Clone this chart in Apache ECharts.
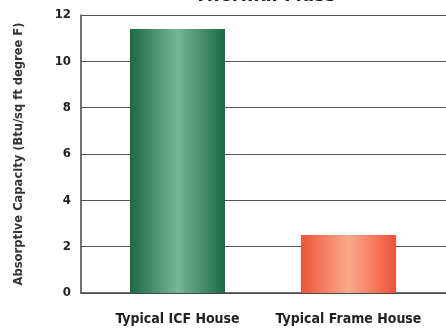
<!DOCTYPE html>
<html>
<head>
<meta charset="utf-8">
<script src="https://cdn.jsdelivr.net/npm/echarts@6/dist/echarts.min.js"></script>
<style>
  html, body { margin: 0; padding: 0; background: #fff; }
  #chart { width: 446px; height: 332px; }
</style>
</head>
<body>
<div id="chart"></div>
<script>
// Thermal mass comparison: absorptive capacity per house type
const categories = ['Typical ICF House', 'Typical Frame House'];
const capacity = [11.4, 2.5];
const yTicks = { min: 0, max: 12, interval: 2 };
const titleText = 'Thermal Mass';

const FONT = '"DejaVu Sans Condensed", "Liberation Sans Narrow", sans-serif';

const barColors = [
  { edge: '#1b6a46', mid: '#78b498' },
  { edge: '#ef5238', mid: '#fbaa8c' }
];

function hGradient(c) {
  return new echarts.graphic.LinearGradient(0, 0, 1, 0, [
    { offset: 0, color: c.edge },
    { offset: 0.5, color: c.mid },
    { offset: 1, color: c.edge }
  ]);
}

const chart = echarts.init(document.getElementById('chart'));
chart.setOption({
  animation: false,
  title: {
    text: titleText,
    left: 260,
    top: -19,
    textAlign: 'center',
    textStyle: { fontFamily: FONT, fontWeight: 'bold', fontSize: 20, color: '#222' }
  },
  grid: [
    // frame: axis, gridlines
    { left: 81, right: 0, top: 15, bottom: 39, containLabel: false },
    // bars and category labels
    { left: 92, width: 342, top: 15, bottom: 39, containLabel: false }
  ],
  xAxis: [
    {
      gridIndex: 0, type: 'category', data: categories,
      axisLine: { show: true, lineStyle: { color: '#444', width: 1.5 } },
      axisTick: { show: false }, axisLabel: { show: false }
    },
    {
      gridIndex: 1, type: 'category', data: categories,
      axisLine: { show: false }, axisTick: { show: false },
      axisLabel: {
        interval: 0, margin: 19,
        fontFamily: FONT, fontWeight: 'bold', fontSize: 14, color: '#222'
      }
    }
  ],
  yAxis: [
    {
      gridIndex: 0, type: 'value',
      min: yTicks.min, max: yTicks.max, interval: yTicks.interval,
      name: 'Absorptive Capacity (Btu/sq ft degree F)',
      nameLocation: 'middle', nameGap: 56, nameRotate: 90,
      nameTextStyle: { fontFamily: FONT, fontWeight: 'bold', fontSize: 12.8, color: '#333' },
      axisLine: { show: true, lineStyle: { color: '#444', width: 1.5 } },
      axisTick: { show: false },
      axisLabel: { margin: 10, fontFamily: FONT, fontWeight: 'bold', fontSize: 13, color: '#222' },
      splitLine: { show: true, lineStyle: { color: '#555', width: 1.2 } }
    },
    {
      gridIndex: 1, type: 'value',
      min: yTicks.min, max: yTicks.max, interval: yTicks.interval,
      show: false, splitLine: { show: false }
    }
  ],
  series: [{
    type: 'bar',
    xAxisIndex: 1, yAxisIndex: 1,
    barWidth: 95,
    data: capacity.map((v, i) => ({
      value: v,
      itemStyle: { color: hGradient(barColors[i]) }
    }))
  }]
});
</script>
</body>
</html>
